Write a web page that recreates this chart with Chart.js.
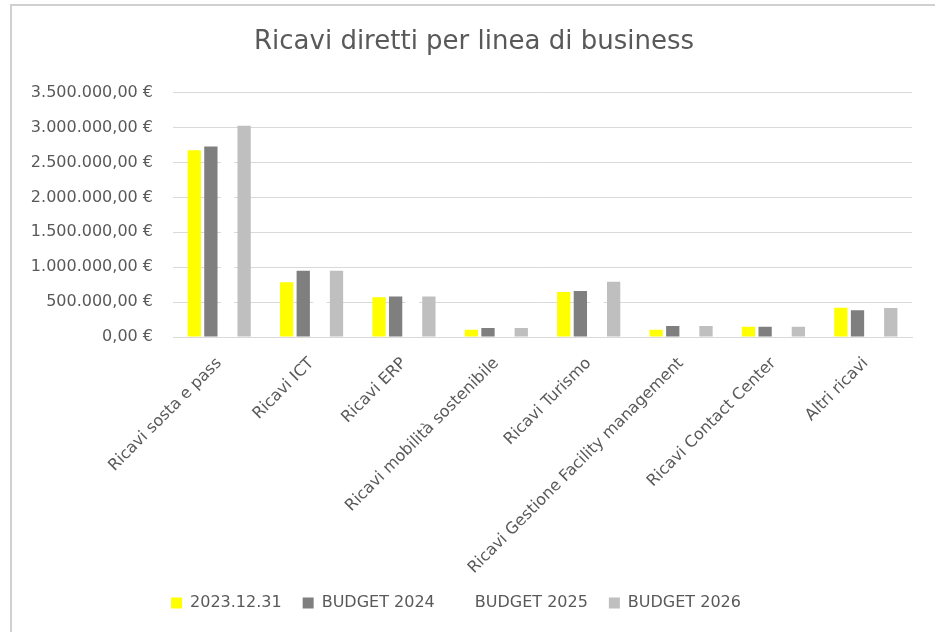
<!DOCTYPE html>
<html>
<head>
<meta charset="utf-8">
<script src="https://cdn.jsdelivr.net/npm/chart.js@4.4.1/dist/chart.umd.min.js"></script>
<style>
  html, body { margin: 0; padding: 0; background: #ffffff; overflow: hidden; }
  canvas { position: absolute; left: 0; top: 0; }
</style>
</head>
<body>
<canvas id="c" width="935" height="632"></canvas>
<script>
const categories = [
  "Ricavi sosta e pass",
  "Ricavi ICT",
  "Ricavi ERP",
  "Ricavi mobilità sostenibile",
  "Ricavi Turismo",
  "Ricavi Gestione Facility management",
  "Ricavi Contact Center",
  "Altri ricavi"
];
const seriesNames = ["2023.12.31", "BUDGET 2024", "BUDGET 2025", "BUDGET 2026"];
const values2023 = [2675000, 786000, 568000, 104000, 643000, 104000, 146000, 420000];
const budget2024 = [2730000, 950000, 582000, 128000, 658000, 156000, 146000, 383000];
const budget2025 = [2850000, 950000, 582000, 128000, 720000, 156000, 146000, 400000];
const budget2026 = [3025000, 950000, 582000, 128000, 790000, 156000, 146000, 416000];
const yTicks = [0, 500000, 1000000, 1500000, 2000000, 2500000, 3000000, 3500000];

const colors = ["#FFFF00", "#7F7F7F", "#FFFFFF", "#BFBFBF"];
const FONT = "'DejaVu Sans', sans-serif";
const TEXT = "#595959";

function fmtEuro(v) {
  const parts = Math.abs(v).toFixed(2).split(".");
  const intPart = parts[0].replace(/\B(?=(\d{3})+(?!\d))/g, ".");
  return intPart + "," + parts[1] + " €";
}

const allSeries = [values2023, budget2024, budget2025, budget2026];
const datasets = allSeries.map((arr, i) => ({
  label: seriesNames[i],
  data: arr,
  backgroundColor: colors[i],
  borderWidth: 0,
  categoryPercentage: 0.72,
  barPercentage: 0.8
}));

const framePlugin = {
  id: "framePlugin",
  afterLayout(chart) {
    if (chart.titleBlock) { chart.titleBlock.left += 18; chart.titleBlock.right += 18; }
  },
  beforeDraw(chart) {
    const ctx = chart.ctx;
    ctx.save();
    ctx.fillStyle = "#ffffff";
    ctx.fillRect(0, 0, chart.width, chart.height);
    ctx.fillStyle = "#d0d0d0";
    ctx.fillRect(10, 4, 2, chart.height - 4);
    ctx.fillRect(10, 4, chart.width - 10, 2);
    ctx.restore();
  }
};

new Chart(document.getElementById("c"), {
  type: "bar",
  data: { labels: categories, datasets: datasets },
  plugins: [framePlugin],
  options: {
    responsive: false,
    animation: false,
    devicePixelRatio: 1,
    layout: { padding: { left: 0, right: 23, top: 0, bottom: 11 } },
    plugins: {
      title: {
        display: true,
        text: "Ricavi diretti per linea di business",
        color: TEXT,
        font: { family: FONT, size: 26, weight: "normal" },
        padding: { top: 26.5, bottom: 35 }
      },
      legend: {
        position: "bottom",
        labels: {
          color: TEXT,
          font: { family: FONT, size: 16 },
          boxWidth: 11,
          boxHeight: 11,
          padding: 21
        }
      },
      tooltip: { enabled: false }
    },
    scales: {
      x: {
        grid: { display: false, drawTicks: false },
        border: { display: true, color: "#d9d9d9", width: 1 },
        afterFit: (scale) => { scale.height = 237; },
        ticks: {
          color: TEXT,
          font: { family: FONT, size: 16 },
          maxRotation: 45,
          minRotation: 45,
          autoSkip: false,
          padding: 17
        }
      },
      y: {
        min: 0,
        max: 3500000,
        afterBuildTicks: (scale) => { scale.ticks = yTicks.map(v => ({ value: v })); },
        afterFit: (scale) => { scale.width = 173; },
        grid: { color: "#d9d9d9", lineWidth: 1, drawTicks: false },
        border: { display: false },
        ticks: {
          color: TEXT,
          font: { family: FONT, size: 16 },
          padding: 20,
          callback: (v) => fmtEuro(v)
        }
      }
    }
  }
});
</script>
</body>
</html>
